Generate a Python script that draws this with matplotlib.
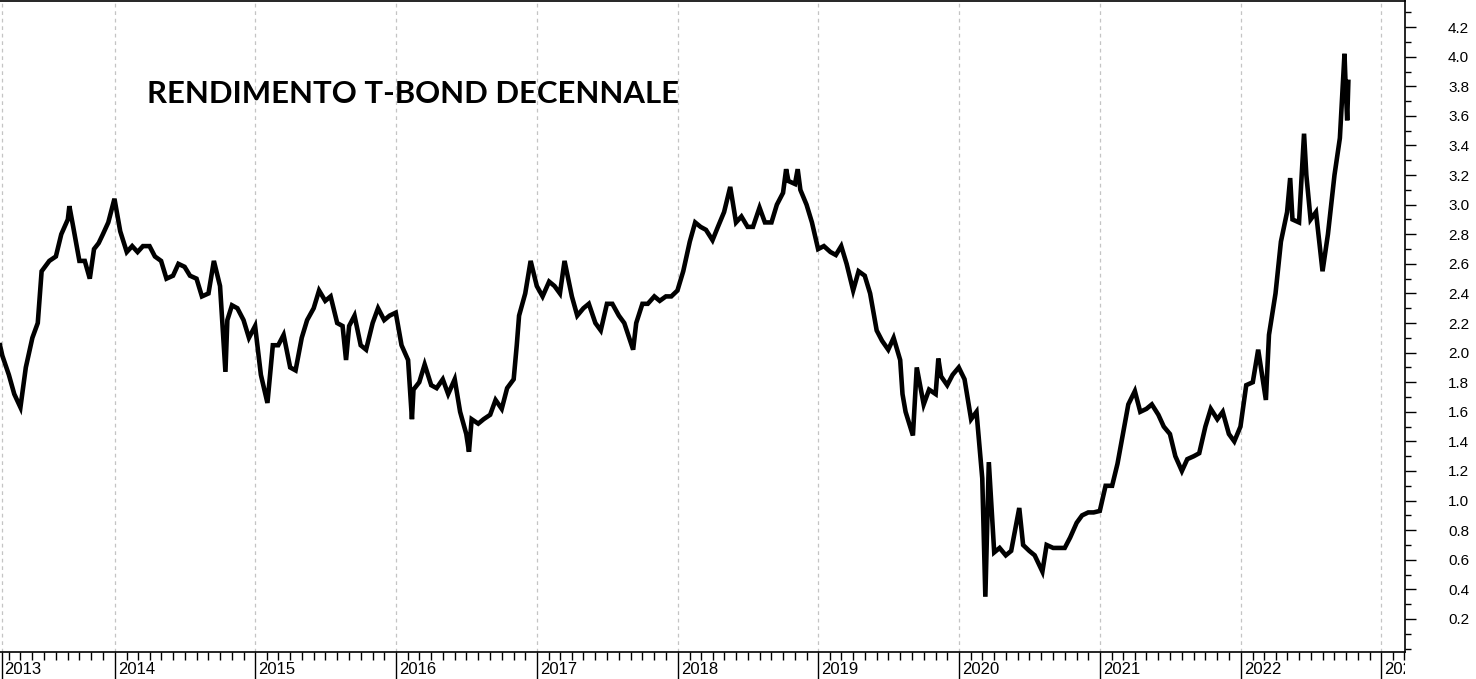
import matplotlib
matplotlib.use("Agg")
import matplotlib.pyplot as plt
import matplotlib.dates as mdates
from matplotlib.ticker import FixedLocator, NullFormatter
from matplotlib.transforms import Bbox, TransformedBbox, offset_copy
import pandas as pd

## Rendimento T-Bond decennale (letture dal grafico, circa ogni 15 giorni)
dates = [
    "2013-03-09", "2013-03-15", "2013-04-01", "2013-04-15", "2013-05-01", "2013-05-15", "2013-06-01", "2013-06-15",
    "2013-06-25", "2013-07-15", "2013-08-01", "2013-08-15", "2013-09-01", "2013-09-05", "2013-09-15", "2013-10-01",
    "2013-10-15", "2013-10-28", "2013-11-08", "2013-11-20", "2013-12-01", "2013-12-15", "2013-12-31",
    "2014-01-15", "2014-02-01", "2014-02-15", "2014-03-01", "2014-03-15", "2014-04-01", "2014-04-15", "2014-05-01",
    "2014-05-15", "2014-06-01", "2014-06-15", "2014-07-01", "2014-07-15", "2014-08-01", "2014-08-15", "2014-09-01",
    "2014-09-15", "2014-10-01", "2014-10-15", "2014-10-20", "2014-11-01", "2014-11-15", "2014-12-01", "2014-12-15",
    "2014-12-31",
    "2015-01-15", "2015-02-01", "2015-02-15", "2015-03-01", "2015-03-15", "2015-04-01", "2015-04-15", "2015-05-01",
    "2015-05-15", "2015-06-01", "2015-06-15", "2015-07-01", "2015-07-15", "2015-08-01", "2015-08-15", "2015-08-24",
    "2015-09-01", "2015-09-15", "2015-10-01", "2015-10-15", "2015-11-01", "2015-11-15", "2015-12-01", "2015-12-15",
    "2015-12-31",
    "2016-01-15", "2016-02-01", "2016-02-11", "2016-02-15", "2016-03-01", "2016-03-15", "2016-04-01", "2016-04-15",
    "2016-05-01", "2016-05-15", "2016-06-01", "2016-06-15", "2016-07-01", "2016-07-08", "2016-07-15", "2016-08-01",
    "2016-08-15", "2016-09-01", "2016-09-15", "2016-10-01", "2016-10-15", "2016-11-01", "2016-11-09", "2016-11-15",
    "2016-12-01", "2016-12-15", "2016-12-31",
    "2017-01-15", "2017-02-01", "2017-02-15", "2017-03-01", "2017-03-13", "2017-04-01", "2017-04-15", "2017-05-01",
    "2017-05-15", "2017-06-01", "2017-06-15", "2017-07-01", "2017-07-15", "2017-08-01", "2017-08-15", "2017-09-07",
    "2017-09-15", "2017-10-01", "2017-10-15", "2017-11-01", "2017-11-15", "2017-12-01", "2017-12-15", "2017-12-31",
    "2018-01-15", "2018-02-01", "2018-02-15", "2018-03-01", "2018-03-15", "2018-04-01", "2018-04-15", "2018-05-01",
    "2018-05-17", "2018-06-01", "2018-06-15", "2018-07-01", "2018-07-15", "2018-08-01", "2018-08-15", "2018-09-01",
    "2018-09-15", "2018-10-01", "2018-10-09", "2018-10-15", "2018-11-01", "2018-11-08", "2018-11-15", "2018-12-01",
    "2018-12-15", "2018-12-31",
    "2019-01-15", "2019-02-01", "2019-02-15", "2019-03-01", "2019-03-15", "2019-04-01", "2019-04-15", "2019-05-01",
    "2019-05-15", "2019-06-01", "2019-06-15", "2019-07-01", "2019-07-15", "2019-08-01", "2019-08-07", "2019-08-15",
    "2019-09-03", "2019-09-13", "2019-10-01", "2019-10-15", "2019-11-01", "2019-11-08", "2019-11-15", "2019-12-01",
    "2019-12-15", "2019-12-31",
    "2020-01-15", "2020-02-01", "2020-02-15", "2020-03-01", "2020-03-09", "2020-03-18", "2020-04-01", "2020-04-15",
    "2020-05-01", "2020-05-15", "2020-06-05", "2020-06-15", "2020-07-01", "2020-07-15", "2020-08-04", "2020-08-15",
    "2020-09-01", "2020-09-15", "2020-10-01", "2020-10-15", "2020-11-01", "2020-11-15", "2020-12-01", "2020-12-15",
    "2020-12-31",
    "2021-01-15", "2021-02-01", "2021-02-15", "2021-03-01", "2021-03-15", "2021-04-01", "2021-04-15", "2021-05-01",
    "2021-05-15", "2021-06-01", "2021-06-15", "2021-07-01", "2021-07-15", "2021-08-01", "2021-08-15", "2021-09-01",
    "2021-09-15", "2021-10-01", "2021-10-15", "2021-11-01", "2021-11-15", "2021-12-01", "2021-12-15", "2021-12-31",
    "2022-01-15", "2022-02-01", "2022-02-15", "2022-03-07", "2022-03-15", "2022-04-01", "2022-04-15", "2022-05-01",
    "2022-05-09", "2022-05-15", "2022-06-01", "2022-06-14", "2022-06-20", "2022-07-01", "2022-07-15", "2022-08-01",
    "2022-08-15", "2022-09-01", "2022-09-15", "2022-09-27", "2022-09-30", "2022-10-04", "2022-10-07",
]
yields = [
    2.05, 1.98, 1.85, 1.72, 1.63, 1.90, 2.10, 2.20,
    2.55, 2.62, 2.65, 2.80, 2.90, 2.99, 2.85, 2.62,
    2.62, 2.50, 2.70, 2.74, 2.80, 2.88, 3.04,
    2.82, 2.68, 2.72, 2.68, 2.72, 2.72, 2.65, 2.62,
    2.50, 2.52, 2.60, 2.58, 2.52, 2.50, 2.38, 2.40,
    2.62, 2.45, 1.87, 2.22, 2.32, 2.30, 2.22, 2.10,
    2.18,
    1.85, 1.66, 2.05, 2.05, 2.12, 1.90, 1.88, 2.10,
    2.22, 2.30, 2.42, 2.35, 2.38, 2.20, 2.18, 1.95,
    2.18, 2.25, 2.05, 2.02, 2.20, 2.30, 2.22, 2.25,
    2.27,
    2.05, 1.95, 1.55, 1.75, 1.80, 1.92, 1.78, 1.76,
    1.82, 1.72, 1.82, 1.60, 1.45, 1.33, 1.55, 1.52,
    1.55, 1.58, 1.68, 1.62, 1.76, 1.82, 2.05, 2.25,
    2.40, 2.62, 2.45,
    2.38, 2.48, 2.45, 2.40, 2.62, 2.38, 2.25, 2.30,
    2.33, 2.20, 2.15, 2.33, 2.33, 2.25, 2.20, 2.02,
    2.20, 2.33, 2.33, 2.38, 2.35, 2.38, 2.38, 2.42,
    2.55, 2.75, 2.88, 2.85, 2.83, 2.76, 2.85, 2.95,
    3.12, 2.88, 2.92, 2.85, 2.85, 2.98, 2.88, 2.88,
    3.00, 3.08, 3.24, 3.16, 3.14, 3.24, 3.10, 3.00,
    2.88, 2.70,
    2.72, 2.68, 2.66, 2.72, 2.60, 2.42, 2.55, 2.52,
    2.40, 2.15, 2.08, 2.02, 2.10, 1.95, 1.72, 1.60,
    1.44, 1.90, 1.65, 1.75, 1.72, 1.96, 1.84, 1.78,
    1.85, 1.90,
    1.82, 1.55, 1.60, 1.15, 0.35, 1.26, 0.65, 0.68,
    0.63, 0.66, 0.95, 0.70, 0.66, 0.63, 0.52, 0.70,
    0.68, 0.68, 0.68, 0.75, 0.85, 0.90, 0.92, 0.92,
    0.93,
    1.10, 1.10, 1.25, 1.45, 1.65, 1.74, 1.60, 1.62,
    1.65, 1.58, 1.50, 1.45, 1.30, 1.20, 1.28, 1.30,
    1.32, 1.50, 1.62, 1.55, 1.60, 1.45, 1.40, 1.50,
    1.78, 1.80, 2.02, 1.68, 2.12, 2.40, 2.75, 2.95,
    3.18, 2.90, 2.88, 3.48, 3.20, 2.90, 2.95, 2.55,
    2.80, 3.20, 3.45, 4.02, 3.80, 3.57, 3.83,
]

year_labels = ["2013", "2014", "2015", "2016", "2017", "2018", "2019", "2020", "2021", "2022", "2023"]
year_ticks = ["2013-03-13", "2014-01-01", "2015-01-01", "2016-01-01", "2017-01-01", "2018-01-01",
              "2019-01-01", "2020-01-01", "2021-01-01", "2022-01-01", "2023-01-01"]
y_major = [0.2, 0.4, 0.6, 0.8, 1.0, 1.2, 1.4, 1.6, 1.8, 2.0, 2.2, 2.4, 2.6, 2.8, 3.0, 3.2, 3.4, 3.6, 3.8, 4.0, 4.2]
y_minor = [0.0, 0.1, 0.3, 0.5, 0.7, 0.9, 1.1, 1.3, 1.5, 1.7, 1.9, 2.1, 2.3, 2.5, 2.7, 2.9, 3.1, 3.3, 3.5, 3.7,
           3.9, 4.1, 4.3]

plt.rcParams["font.family"] = "Liberation Sans"

fig = plt.figure(figsize=(14.76, 6.79), dpi=100)
ax = fig.add_axes([0, 27.5 / 679, 1405 / 1476, 651 / 679])

t = pd.to_datetime(dates)
ax.plot(t, yields, color="black", lw=3.3, solid_joinstyle="miter")

ax.set_xlim(pd.Timestamp("2013-03-09"), pd.Timestamp("2023-03-03"))
ax.set_ylim(-0.02, 4.38)

# asse x: anni + mesi
xt = mdates.date2num(pd.to_datetime(year_ticks))
ax.xaxis.set_major_locator(FixedLocator(xt))
ax.xaxis.set_major_formatter(NullFormatter())
ax.xaxis.set_minor_locator(mdates.MonthLocator())
ax.tick_params(axis="x", which="major", direction="out", length=20, width=1)
ax.tick_params(axis="x", which="minor", direction="out", length=6, width=1)
ax.grid(axis="x", which="major", color="#c4c4c4", linestyle=(0, (3, 3)), lw=0.9)

clip = TransformedBbox(Bbox([[0, -1], [1, 2]]), ax.transAxes)
lab_tr = offset_copy(ax.get_xaxis_transform(), fig=fig, x=3, y=-10, units="dots")
for x, lab in zip(xt, year_labels):
    txt = ax.text(x, 0, lab, transform=lab_tr, ha="left", va="top", fontsize=12, clip_on=True)
    txt.set_clip_path(None)
    txt.set_clip_box(clip)

# asse y a destra
ax.yaxis.tick_right()
ax.yaxis.set_major_locator(FixedLocator(y_major))
ax.yaxis.set_minor_locator(FixedLocator(y_minor))
ax.set_yticklabels([f"{v:.1f}" for v in y_major])
ax.tick_params(axis="y", which="major", direction="out", length=8, width=1, pad=23, labelsize=11)
ax.tick_params(axis="y", which="minor", direction="out", length=4, width=1)

ax.spines["left"].set_visible(False)
for s in ("top", "right", "bottom"):
    ax.spines[s].set_linewidth(1.2)

fig.text(147 / 1476, 1 - 94 / 679, "RENDIMENTO T-BOND DECENNALE", ha="left", va="center",
         fontsize=22.4, fontweight="bold", family="Lato")

fig.savefig("out.png", dpi=100)
